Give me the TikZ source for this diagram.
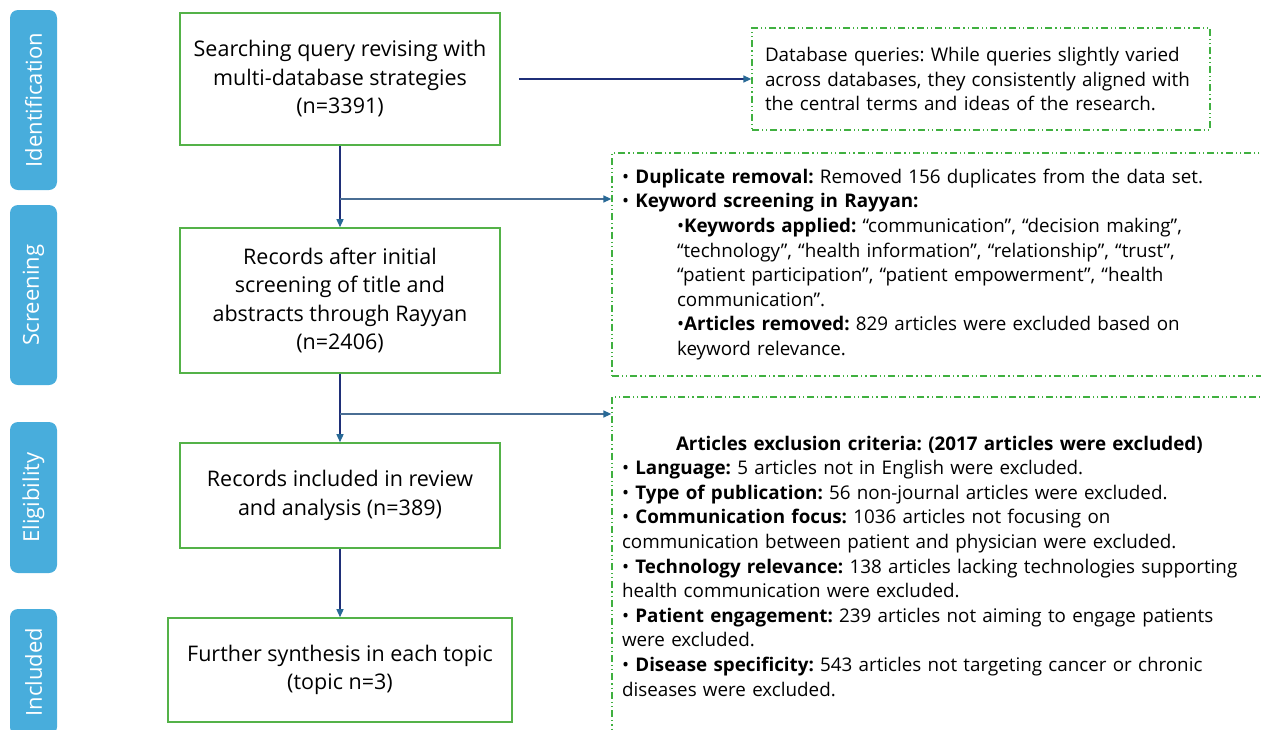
\documentclass[tikz,border=0pt]{standalone}
\usepackage{fontspec}
\setmainfont{Open Sans}
\usetikzlibrary{arrows.meta,positioning}
\definecolor{stageblue}{RGB}{72,173,220}
\definecolor{boxgreen}{RGB}{84,178,72}
\definecolor{notegreen}{RGB}{64,176,64}
\definecolor{flownavy}{RGB}{31,47,120}
\definecolor{branchblue}{RGB}{74,110,148}
\definecolor{tipblue}{RGB}{40,105,150}
\frenchspacing

\begin{document}
\begin{tikzpicture}[x=1pt, y=-1pt,
    stage style/.style={fill=stageblue, rounded corners=8pt, rotate=90, inner sep=0pt,
        minimum height=47pt, text=white, font=\fontsize{22}{26}\selectfont},
    step style/.style={draw=boxgreen, line width=1.6pt, align=center, inner sep=0pt,
        font=\fontsize{21.5}{28.5}\selectfont},
    note style/.style={draw=notegreen, line width=1.3pt, align=left, inner ysep=0pt,
        dash pattern=on 7pt off 3pt on 1.2pt off 3pt on 1.2pt off 3pt,
        font=\fontsize{18.8}{24.6}\selectfont},
    flow style/.style={draw=flownavy, line width=1.4pt, -{Triangle[length=8pt,width=7pt,color=tipblue]}},
    branch style/.style={draw=branchblue, line width=1.4pt, -{Triangle[length=8pt,width=7pt,color=tipblue]}},]
    \clip (0,0) rectangle (1261,729);

    \pgfmathsetmacro{\kwindent}{55}

    % stages
    \node[style=stage style, minimum width=180pt] (identification) at (33.5,100) {Identification};
    \node[style=stage style, minimum width=180pt] (screening) at (33.5,295) {Screening};
    \node[style=stage style, minimum width=151pt] (eligibility) at (33.5,497.5) {Eligibility};
    \node[style=stage style, minimum width=126pt] (included) at (33.5,672) {Included};

    % flow boxes
    \node[style=step style, minimum width=320pt, minimum height=132pt] (search box) at (340,79)
        {Searching query revising with\\multi-database strategies\\(n=3391)};
    \node[style=step style, minimum width=320pt, minimum height=145pt] (screen box) at (340,300.5)
        {Records after initial\\screening of title and\\abstracts through Rayyan\\(n=2406)};
    \node[style=step style, minimum width=320pt, minimum height=105pt] (review box) at (340,495.5)
        {Records included in review\\and analysis (n=389)};
    \node[style=step style, minimum width=344pt, minimum height=104pt] (synth box) at (340,670)
        {Further synthesis in each topic\\(topic n=3)};

    % notes
    \node[style=note style, text width=432pt, inner xsep=13pt, minimum height=102pt] (query note) at (981,79)
        {Database queries: While queries slightly varied\\
         across databases, they consistently aligned with\\
         the central terms and ideas of the research.};
    \node[style=note style, text width=648pt, inner xsep=10pt, minimum height=223pt] (dup note) at (946,264.5)
        {• \textbf{Duplicate removal:} Removed 156 duplicates from the data set.\\
         • \textbf{Keyword screening in Rayyan:}\\
         \hspace*{\kwindent pt}•\textbf{Keywords applied:} “communication”, “decision making”,\\
         \hspace*{\kwindent pt}“technology”, “health information”, “relationship”, “trust”,\\
         \hspace*{\kwindent pt}“patient participation”, “patient empowerment”, “health\\
         \hspace*{\kwindent pt}communication”.\\
         \hspace*{\kwindent pt}•\textbf{Articles removed:} 829 articles were excluded based on\\
         \hspace*{\kwindent pt}keyword relevance.};
    \node[style=note style, text width=648pt, inner xsep=10pt, minimum height=338pt] (excl note) at (946,566)
        {\hspace*{54pt}\textbf{Articles exclusion criteria: (2017 articles were excluded)}\\
         • \textbf{Language:} 5 articles not in English were excluded.\\
         • \textbf{Type of publication:} 56 non-journal articles were excluded.\\
         • \textbf{Communication focus:} 1036 articles not focusing on\\
         communication between patient and physician were excluded.\\
         • \textbf{Technology relevance:} 138 articles lacking technologies supporting\\
         health communication were excluded.\\
         • \textbf{Patient engagement:} 239 articles not aiming to engage patients\\
         were excluded.\\
         • \textbf{Disease specificity:} 543 articles not targeting cancer or chronic\\
         diseases were excluded.};

    % connectors
    \coordinate (query start) at ([xshift=18pt]search box.east);
    \coordinate (split1) at (340,199);
    \coordinate (split2) at (340,414);

    \draw[style=flow style] (query start) -- (query note);
    \draw[style=flow style] (search box) -- (screen box);
    \draw[style=flow style] (screen box) -- (review box);
    \draw[style=flow style] (review box) -- (synth box);
    \draw[style=branch style] (split1) -- (split1 -| dup note.west);
    \draw[style=branch style] (split2) -- (split2 -| excl note.west);

\end{tikzpicture}
\end{document}
